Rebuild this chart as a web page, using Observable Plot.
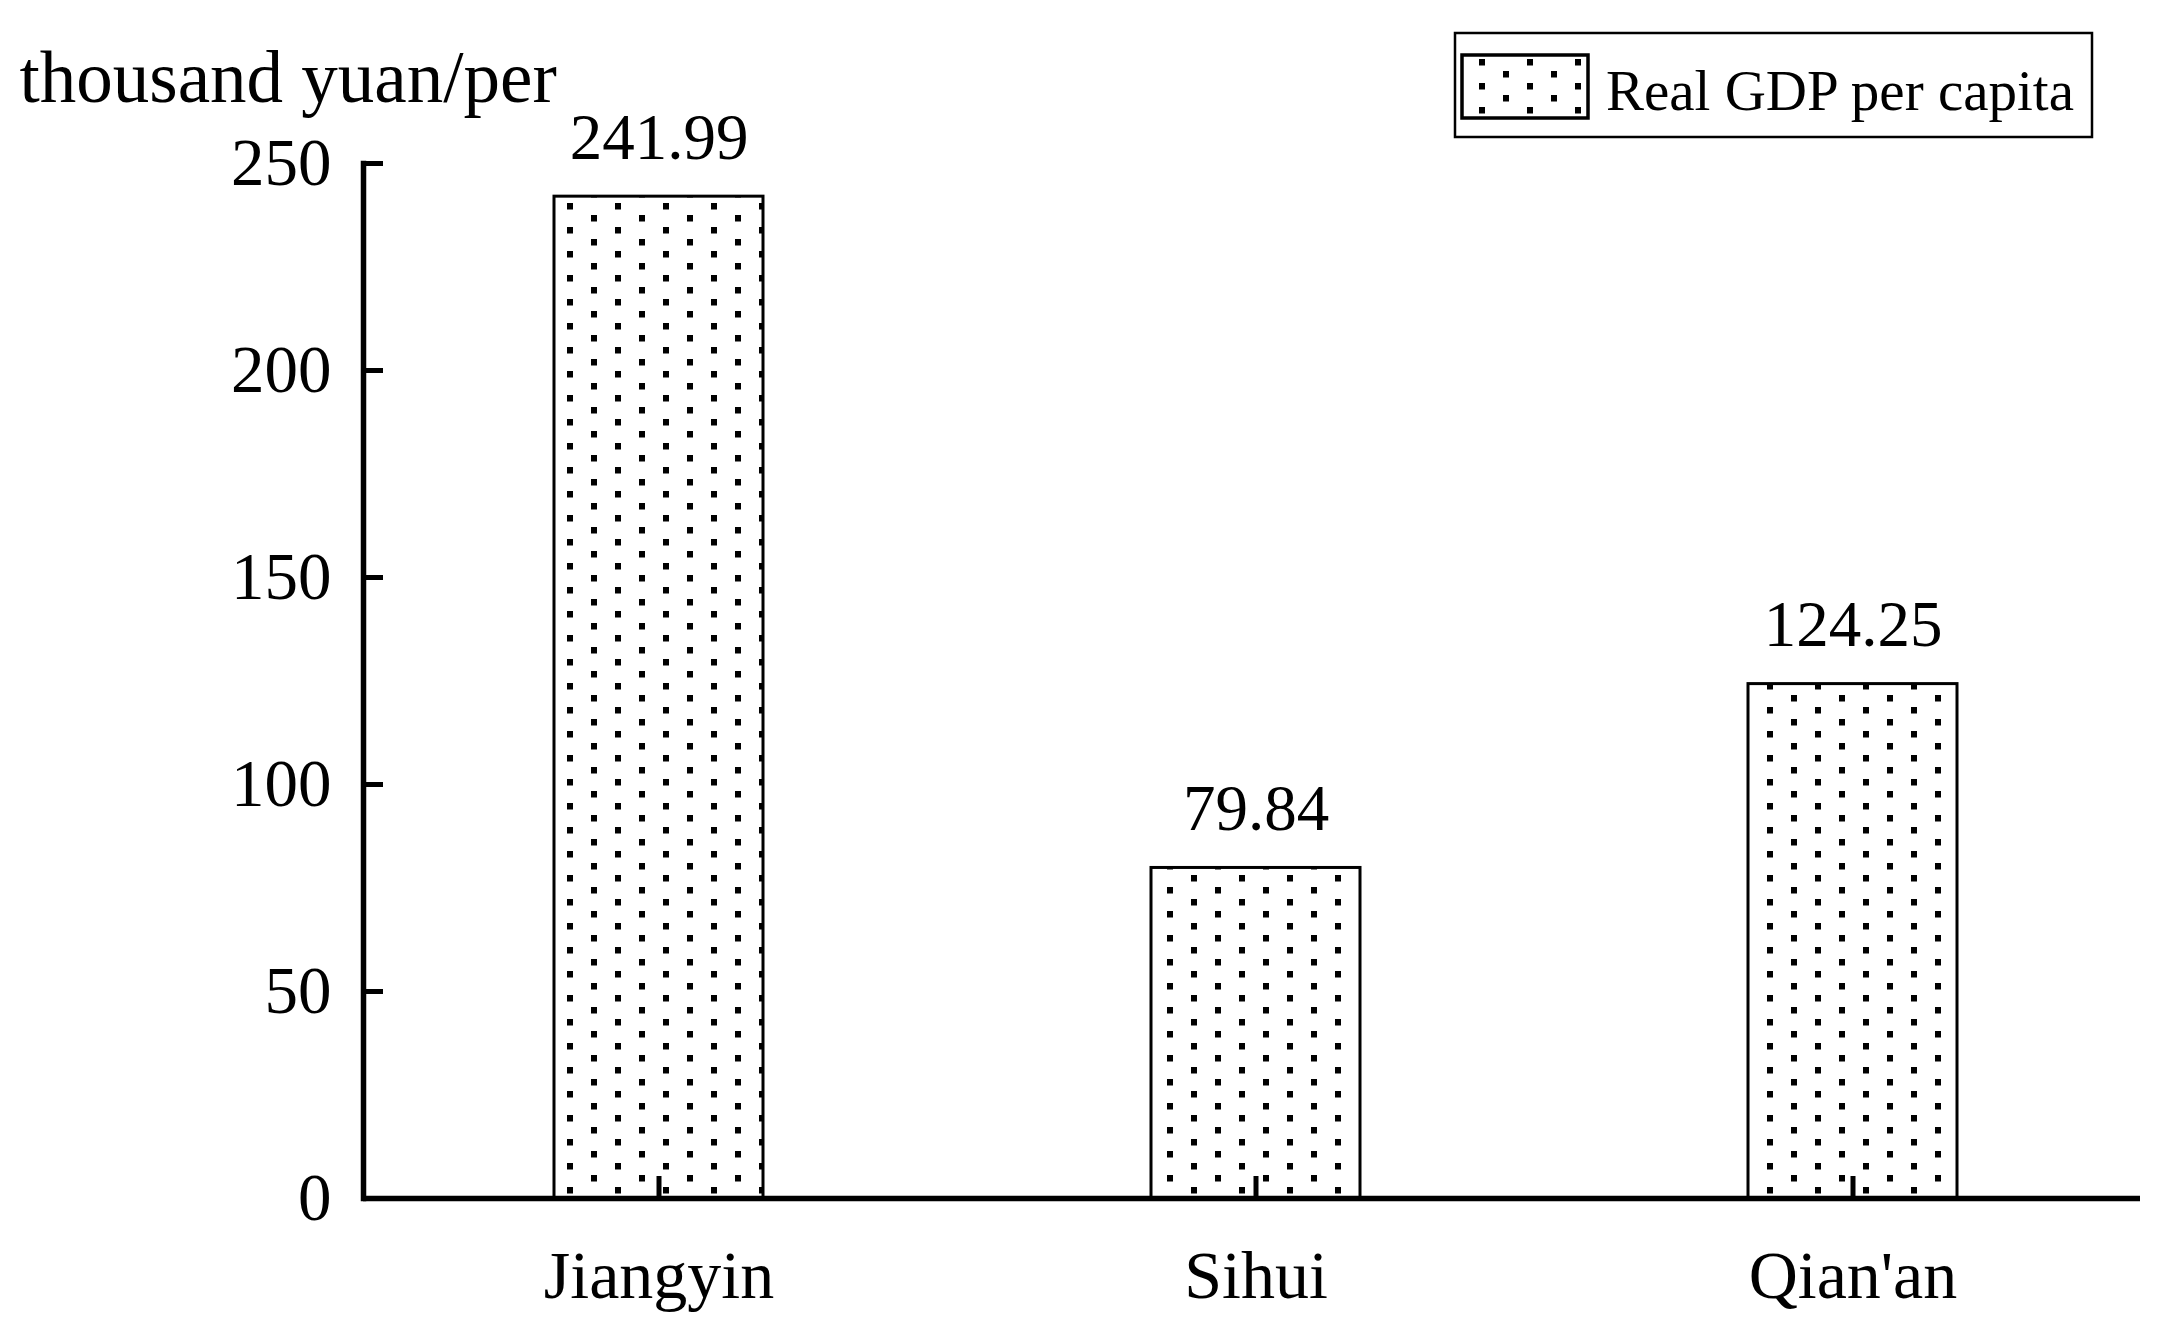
<!DOCTYPE html>
<html>
<head>
<meta charset="utf-8">
<script src="https://cdn.jsdelivr.net/npm/d3@7"></script>
<script src="https://cdn.jsdelivr.net/npm/@observablehq/plot@0.6"></script>
<style>
html, body { margin: 0; padding: 0; background: #fff; }
#wrap { position: relative; width: 2162px; height: 1325px; font-family: "Liberation Serif", "DejaVu Serif", serif; }
#legend { position: absolute; left: 1450px; top: 28px; }
</style>
</head>
<body>
<div id="wrap"></div>
<script>
const cities = ["Jiangyin", "Sihui", "Qian'an"];
const gdpValues = [241.99, 79.84, 124.25];
const yTicks = [0, 50, 100, 150, 200, 250];
const yLabel = "thousand yuan/per";
const seriesName = "Real GDP per capita";

const data = cities.map((c, i) => ({city: c, value: gdpValues[i]}));

const chart = Plot.plot({
  width: 2162,
  height: 1325,
  marginLeft: 363,
  marginRight: 22,
  marginTop: 163,
  marginBottom: 127,
  style: {fontFamily: '"Liberation Serif", serif', background: "white", color: "black", overflow: "visible"},
  x: {domain: cities, paddingInner: 0.65, paddingOuter: 0.312, align: 0.51, label: null},
  y: {domain: [0, 250], label: null},
  marks: [
    Plot.barY(data, {x: "city", y: "value", fill: "url(#dots)", stroke: "black", strokeWidth: 3}),
    Plot.text(data, {x: "city", y: "value", text: d => d.value.toFixed(2), lineAnchor: "bottom", dy: -38, fontSize: 65, fill: "black"}),
    Plot.axisY({ticks: yTicks, tickSize: -20, tickPadding: 52, strokeWidth: 5, fontSize: 67, label: null, tickFormat: d => String(d)}),
    Plot.axisX({tickSize: -22, tickPadding: 73, strokeWidth: 5, fontSize: 68, label: null}),
    Plot.frame({anchor: "left", strokeWidth: 5.5}),
    Plot.ruleY([0], {strokeWidth: 5.5}),
    Plot.text([yLabel], {frameAnchor: "top-left", dx: -344, dy: -62, textAnchor: "start", lineAnchor: "bottom", fontSize: 73, fill: "black"})
  ]
});

function addDots(svgSel, id, ox, oy) {
  let defs = svgSel.select("defs");
  if (defs.empty()) defs = svgSel.insert("defs", ":first-child");
  const pat = defs.append("pattern")
    .attr("id", id)
    .attr("patternUnits", "userSpaceOnUse")
    .attr("x", ox).attr("y", oy)
    .attr("width", 48).attr("height", 24);
  pat.append("rect").attr("width", 48).attr("height", 24).attr("fill", "white");
  pat.append("rect").attr("x", 0).attr("y", 0).attr("width", 6).attr("height", 6.5).attr("fill", "black");
  pat.append("rect").attr("x", 24).attr("y", 12).attr("width", 6).attr("height", 6.5).attr("fill", "black");
}

addDots(d3.select(chart), "dots", 15, -1);
document.getElementById("wrap").appendChild(chart);

// legend (overlay in the top margin)
const leg = d3.select("#wrap").append("svg")
  .attr("id", "legend")
  .attr("width", 650).attr("height", 115);
addDots(leg, "dots2", 5, 19);
leg.append("rect").attr("x", 5).attr("y", 5).attr("width", 637).attr("height", 104)
  .attr("fill", "white").attr("stroke", "black").attr("stroke-width", 2.5);
leg.append("rect").attr("x", 12).attr("y", 27).attr("width", 126).attr("height", 63)
  .attr("fill", "url(#dots2)").attr("stroke", "black").attr("stroke-width", 3.5);
leg.append("text").attr("x", 156).attr("y", 82)
  .attr("font-family", '"Liberation Serif", serif').attr("font-size", 57).attr("fill", "black")
  .text(seriesName);
</script>
</body>
</html>
